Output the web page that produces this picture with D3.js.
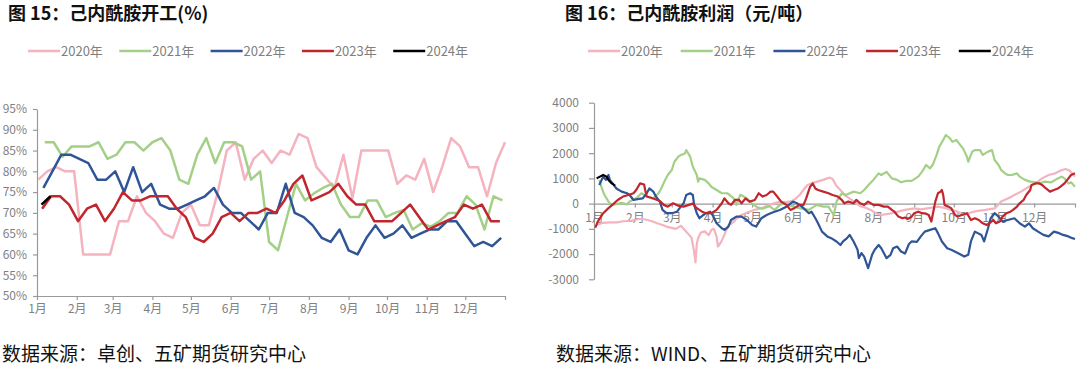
<!DOCTYPE html>
<html>
<head>
<meta charset="utf-8">
<script src="https://cdn.jsdelivr.net/npm/d3@7"></script>
<style>
  body { margin: 0; background: #fff; }
  svg { display: block; font-family: 'Noto Sans CJK SC', 'Noto Sans', sans-serif; }
</style>
</head>
<body>
<svg id="chart" width="1080" height="365"></svg>
<script>
const years = ['2020年', '2021年', '2022年', '2023年', '2024年']
const colors = ['#f4b3bf', '#a3d086', '#2f5597', '#c0262d', '#000000']
const monthLabels = ['1月', '2月', '3月', '4月', '5月', '6月', '7月', '8月', '9月', '10月', '11月', '12月']
const monthStarts = [0, 31, 59, 90, 120, 151, 181, 212, 243, 273, 304, 334]

// left chart: weekly operating rate (%), first point day-of-year per year
const rateStartDay = [1, 6, 5, 4, 3.5]
const rate2020 = [78, 80, 81, 80, 80, 60, 60, 60, 60, 68, 68, 74, 70, 68, 65, 64, 70, 72, 67, 67,
  75, 85, 87, 78, 83, 85, 82, 85, 84, 89, 88, 81, 78.5, 76, 84, 73.5, 85, 85, 85, 85,
  77, 79, 78, 83, 75, 81, 88, 86, 81, 81, 74, 82, 87]
const rate2021 = [87, 87, 83.5, 86, 86, 86, 87, 83, 84, 87, 87, 85, 87, 88, 85, 78, 77, 84, 88, 82,
  87, 87, 86, 78, 80, 63, 61, 69, 77, 73, 74.7, 76, 77, 72, 69, 69, 73, 73, 69, 70,
  70.7, 66, 67.5, 66.7, 68, 70, 70, 74, 72, 66, 74, 73]
const rate2022 = [76, 80, 84, 84, 83, 82, 78, 78, 80, 75, 81, 75, 77, 72, 71, 71, 72, 73, 74, 76,
  72, 70, 70, 68, 66, 70, 70, 77, 70, 69, 67, 64, 63, 66, 61, 60, 64, 67, 64, 65,
  67, 64, 65, 66, 66, 68, 68, 65, 62, 63, 62, 64]
const rate2023 = [71, 74, 74, 72, 68, 71, 72, 68, 71, 75, 73, 73, 74, 74, 74, 71, 69, 64, 63, 65,
  69, 70, 68, 70, 70, 71, 70, 73, 77, 79, 73, 74, 75, 77, 74, 72, 72, 68, 68, 68,
  70, 72, 69, 66, 67, 68, 69, 72, 71, 72, 68, 68]
const rate2024 = [72, 74]
const rateTicks = [50, 55, 60, 65, 70, 75, 80, 85, 90, 95]

// right chart: profit (yuan/ton), [day-of-year, value]
const profit2020 = [[2, -850], [7, -760], [12, -740], [18, -740], [22, -700], [28, -680], [33, -620], [36, -600],
  [40, -640], [44, -700], [48, -780], [52, -850], [55, -910], [59, -960], [62, -1000], [64, -940], [66, -880],
  [68, -1000], [71, -1170], [74, -1350], [76, -1900], [77, -2330], [78, -1600], [79, -1370], [81, -1150],
  [84, -1100], [87, -1250], [89, -1050], [91, -1000], [93, -1300], [94, -1700], [96, -1560], [98, -1350],
  [100, -1100], [102, -850], [104, -800], [106, -720], [108, -600], [112, -450], [115, -380], [118, -320],
  [121, -260], [126, -200], [131, -100], [136, 0], [141, 80], [146, 60], [150, 100], [153, 200], [156, 340],
  [159, 550], [162, 740], [166, 820], [170, 880], [174, 940], [177, 1000], [179, 1030], [181, 980], [184, 700],
  [187, 540], [190, 350], [194, 200], [198, 60], [202, -100], [206, -160], [210, -250], [214, -380],
  [218, -450], [224, -400], [230, -330], [236, -250], [243, -190], [248, -230], [254, -180], [261, -120],
  [266, -170], [272, -260], [276, -320], [281, -450], [284, -380], [290, -300], [297, -250], [304, -190],
  [309, 80], [314, 200], [319, 340], [324, 475], [330, 670], [335, 800], [340, 1000], [345, 1135],
  [350, 1200], [355, 1330], [358, 1370], [361, 1300], [365, 1070]]
const profit2021 = [[4, 940], [6, 600], [8, 340], [11, 80], [13, -50], [17, -20], [21, 30], [25, -30],
  [27, 80], [32, 210], [36, 410], [40, 280], [45, 210], [49, 410], [51, 600], [54, 940], [56, 1135],
  [59, 1330], [61, 1660], [64, 1860], [66, 1930], [69, 1990], [70, 2120], [73, 1860], [75, 1460],
  [78, 1135], [79, 870], [80, 1000], [84, 940], [87, 800], [89, 670], [93, 540], [97, 410], [101, 410],
  [103, 340], [106, 210], [108, -50], [111, 350], [113, 300], [116, 200], [120, 0], [124, -150],
  [128, -200], [133, -100], [137, -250], [141, -50], [144, 13], [150, -100], [156, -180], [163, -250],
  [169, -50], [174, -120], [178, -120], [180, -300], [182, -450], [184, 80], [188, 410], [191, 340],
  [197, 475], [202, 410], [205, 540], [209, 780], [212, 940], [216, 1200], [218, 1135], [222, 1260],
  [226, 1000], [230, 940], [233, 845], [237, 900], [241, 900], [246, 1070], [249, 1270], [252, 1530],
  [255, 1400], [257, 1530], [260, 1930], [262, 2260], [265, 2520], [267, 2720], [270, 2590], [272, 2450],
  [275, 2520], [278, 2320], [280, 2190], [283, 1860], [284, 1660], [287, 2060], [289, 2120], [293, 2120],
  [295, 1930], [299, 2060], [302, 2120], [304, 1730], [307, 1530], [309, 1330], [312, 1200], [314, 1135],
  [317, 1135], [321, 1200], [323, 1070], [327, 940], [331, 870], [335, 845], [338, 800], [342, 870],
  [347, 845], [352, 1000], [355, 1070], [357, 1000], [360, 800], [362, 845], [365, 670]]
const profit2022 = [[4, 740], [7, 1070], [9, 940], [11, 1135], [12, 940], [15, 740], [17, 600], [21, 475],
  [25, 410], [27, 340], [30, 145], [34, 185], [37, 210], [40, 410], [42, 600], [45, 475], [47, 280],
  [50, 80], [52, -250], [55, -380], [59, -380], [63, -320], [65, -180], [68, 13], [70, 340], [73, 410],
  [75, 340], [76, -50], [78, -380], [80, -580], [83, -450], [85, -380], [88, -320], [90, -450], [93, -780],
  [97, -975], [99, -1040], [102, -910], [104, -650], [108, -515], [112, -515], [116, -650], [120, -845],
  [123, -910], [127, -580], [131, -450], [134, -380], [137, -320], [141, -250], [146, -120], [151, 80],
  [154, 13], [156, -50], [159, -180], [163, -380], [165, -320], [168, -580], [170, -780], [173, -1110],
  [177, -1300], [180, -1370], [184, -1500], [187, -1640], [189, -1500], [192, -1370], [194, -1240],
  [197, -1500], [200, -1830], [201, -2160], [203, -1960], [205, -2100], [208, -2560], [211, -2030],
  [213, -1830], [216, -1640], [218, -1770], [222, -2160], [225, -2030], [227, -1770], [230, -1700],
  [233, -1900], [236, -1980], [239, -1600], [241, -1500], [245, -1520], [248, -1300], [251, -1110],
  [255, -1040], [259, -975], [261, -1170], [264, -1500], [268, -1770], [271, -1830], [276, -1960],
  [281, -2100], [284, -2030], [286, -1500], [289, -1110], [294, -1240], [296, -1500], [299, -975],
  [301, -580], [304, -380], [307, -515], [310, -710], [314, -650], [319, -580], [323, -780], [327, -910],
  [330, -780], [333, -975], [337, -1110], [341, -1240], [345, -1300], [349, -1110], [353, -1170],
  [356, -1240], [360, -1300], [363, -1370], [365, -1400]]
const profit2023 = [[1, -950], [3, -700], [7, -380], [11, -180], [15, 0], [18, 145], [22, 280], [26, 340],
  [30, 410], [32, 540], [35, 800], [38, 760], [39, 500], [40, 280], [42, 250], [46, 185], [50, 105],
  [53, -50], [56, -120], [60, 13], [64, -80], [68, -120], [72, -50], [75, 0], [78, -180], [82, -320],
  [85, -380], [89, -380], [93, -250], [97, 13], [99, 210], [102, 13], [104, -50], [107, 145], [110, 145],
  [112, 13], [115, 210], [118, 80], [122, 145], [125, 410], [128, 280], [131, 340], [134, 475], [136, 475],
  [139, 280], [142, 80], [146, -50], [149, -250], [152, -180], [156, -50], [159, -50], [161, 210],
  [164, 670], [166, 800], [168, 600], [170, 540], [174, 475], [178, 410], [181, 340], [185, 280], [188, 145],
  [190, 13], [193, 80], [197, 13], [199, 145], [202, 13], [205, -50], [208, 80], [212, -50], [216, -50],
  [220, -120], [223, -120], [226, -250], [228, -320], [231, -515], [234, -580], [236, -550], [238, -610],
  [241, -515], [243, -380], [246, -320], [249, -380], [252, -400], [254, -450], [256, -710], [259, 80],
  [261, 410], [263, 475], [264, 540], [265, 340], [266, -50], [269, -120], [271, -180], [274, -450],
  [276, -515], [279, -450], [283, -380], [286, -650], [289, -580], [292, -650], [295, -780], [298, -845],
  [300, -780], [303, -650], [305, -780], [308, -710], [310, -515], [313, -380], [316, -320], [318, -250],
  [321, -120], [323, 13], [326, 145], [328, 340], [331, 540], [332, 740], [335, 800], [338, 800],
  [340, 740], [343, 600], [346, 475], [349, 540], [352, 600], [354, 670], [357, 800], [360, 1000],
  [362, 1135], [365, 1200]]
const profit2024 = [[2, 1000], [4.5, 1070], [7, 1135], [9.5, 1070], [11, 940], [13.5, 800], [16, 710]]
const profitTicks = [-3000, -2000, -1000, 0, 1000, 2000, 3000, 4000]

const svg = d3.select('#chart')
const axisColor = '#9a9a9a'
const labelColor = '#7f7f7f'

function titleAndLegend(x0, title, legendX, legendStep) {
  svg
    .append('text')
    .attr('x', x0)
    .attr('y', 20)
    .style('font-size', '18px')
    .style('font-weight', 700)
    .attr('fill', '#111')
    .text(title)

  const items = svg
    .append('g')
    .selectAll('g')
    .data(years)
    .enter()
    .append('g')
    .attr('transform', (d, i) => 'translate(' + (legendX + i * legendStep) + ',51)')
  items
    .append('line')
    .attr('x1', 0)
    .attr('x2', 32)
    .attr('stroke', (d, i) => colors[i])
    .attr('stroke-width', 2.5)
  items
    .append('text')
    .attr('x', 33)
    .attr('y', 4.5)
    .style('font-size', '13px')
    .attr('fill', labelColor)
    .text(d => d)
}

function styleAxis(g) {
  g.select('.domain').attr('stroke', axisColor).attr('stroke-width', 1.2)
  g.selectAll('.tick line').attr('stroke', axisColor).attr('stroke-width', 1.2)
  g.selectAll('.tick text')
    .attr('fill', labelColor)
    .style('font-size', '12px')
    .style('font-family', "'Noto Sans CJK SC', 'Noto Sans', sans-serif")
}

// ---- left chart ----
titleAndLegend(8, '图 15：己内酰胺开工(%)', 28, 91.3)

const xL = d3.scaleLinear().domain([0, 365]).range([37, 505])
const yL = d3.scaleLinear().domain([50, 95]).range([296, 109])

svg
  .append('g')
  .attr('transform', 'translate(37,0)')
  .call(d3.axisLeft(yL).tickValues(rateTicks).tickSize(4).tickSizeOuter(0).tickPadding(6).tickFormat(d => d + '%'))
  .call(styleAxis)

svg
  .append('g')
  .attr('transform', 'translate(0,296)')
  .call(
    d3.axisBottom(xL)
      .tickValues(monthStarts.concat([365]))
      .tickSize(4)
      .tickSizeOuter(0)
      .tickFormat((d, i) => monthLabels[i] || '')
  )
  .call(styleAxis)
  .call(g => g.selectAll('.tick text').attr('y', 17).attr('dy', null))

const rateSeries = [rate2020, rate2021, rate2022, rate2023, rate2024]
const lineL = d3
  .line()
  .x(d => xL(d.day))
  .y(d => yL(d.value))

rateSeries.forEach(function(vals, s) {
  const pts = vals.map((v, k) => ({ day: rateStartDay[s] + k * 7, value: v }))
  svg
    .append('path')
    .datum(pts)
    .attr('d', lineL)
    .attr('fill', 'none')
    .attr('stroke', colors[s])
    .attr('stroke-width', 2.5)
    .attr('stroke-linejoin', 'round')
})

// ---- right chart ----
titleAndLegend(565, '图 16：己内酰胺利润（元/吨）', 588, 92.7)

const xR = d3.scaleLinear().domain([0, 365]).range([594, 1075])
const yR = d3.scaleLinear().domain([-3000, 4000]).range([279.3, 102.7])

svg
  .append('g')
  .attr('transform', 'translate(594,0)')
  .call(d3.axisLeft(yR).tickValues(profitTicks).tickSize(5).tickSizeOuter(0).tickPadding(10).tickFormat(d3.format('d')))
  .call(styleAxis)
  .call(g => g.selectAll('.tick text').text(d => (d < 0 ? '-' + Math.abs(d) : d)))

svg
  .append('g')
  .attr('transform', 'translate(0,' + yR(0) + ')')
  .call(
    d3.axisBottom(xR)
      .tickValues(monthStarts.concat([365]))
      .tickSize(4)
      .tickSizeOuter(0)
      .tickFormat((d, i) => monthLabels[i] || '')
  )
  .call(styleAxis)
  .call(g => g.selectAll('.tick text').attr('y', 18).attr('dy', null))

const profitSeries = [profit2020, profit2021, profit2022, profit2023, profit2024]
const lineR = d3
  .line()
  .x(d => xR(d[0]))
  .y(d => yR(d[1]))

profitSeries.forEach(function(pts, s) {
  svg
    .append('path')
    .datum(pts)
    .attr('d', lineR)
    .attr('fill', 'none')
    .attr('stroke', colors[s])
    .attr('stroke-width', 2.2)
    .attr('stroke-linejoin', 'round')
})

// ---- sources ----
svg
  .append('text')
  .attr('x', 2)
  .attr('y', 361)
  .style('font-size', '19px')
  .attr('fill', '#111')
  .text('数据来源：卓创、五矿期货研究中心')

svg
  .append('text')
  .attr('x', 556)
  .attr('y', 361)
  .style('font-size', '19px')
  .attr('fill', '#111')
  .text('数据来源：WIND、五矿期货研究中心')
</script>
</body>
</html>
